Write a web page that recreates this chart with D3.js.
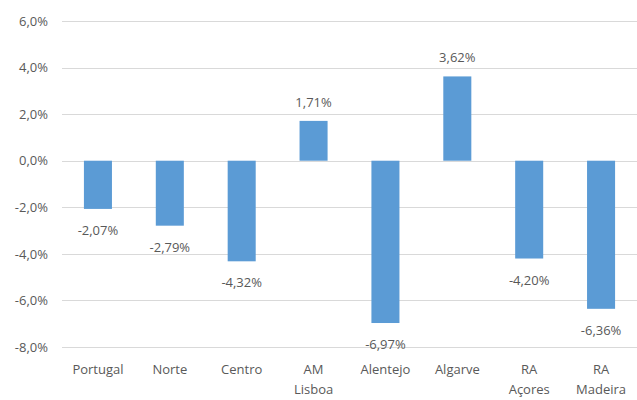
<!DOCTYPE html>
<html>
<head>
<meta charset="utf-8">
<script src="https://cdn.jsdelivr.net/npm/d3@7"></script>
<style>
  body { margin: 0; background: #fff; }
  text { font-family: "Open Sans", "Liberation Sans", sans-serif; fill: #595959; }
</style>
</head>
<body>
<svg id="chart" width="637" height="400"></svg>
<script>
// data
var categories = [["Portugal"], ["Norte"], ["Centro"], ["AM", "Lisboa"], ["Alentejo"], ["Algarve"], ["RA", "Açores"], ["RA", "Madeira"]];
var values = [-2.07, -2.79, -4.32, 1.71, -6.97, 3.62, -4.20, -6.36];
var yTicks = [6, 4, 2, 0, -2, -4, -6, -8];

var attrs = {
  width: 637,
  height: 400,
  marginLeft: 62,
  marginRight: 0,
  marginTop: 21,
  plotBottom: 347,
  barColor: '#5b9bd5',
  gridColor: '#d9d9d9',
  fontSize: 13
};

var svg = d3.select('#chart');
var fmtTick = function (d) { return d.toFixed(1).replace('.', ',') + '%'; };
var fmtVal = function (d) { return d.toFixed(2).replace('.', ',') + '%'; };

var x = d3.scaleBand()
  .domain(d3.range(categories.length))
  .range([attrs.marginLeft, attrs.width - attrs.marginRight])
  .paddingInner(0.61)
  .paddingOuter(0.305);

var y = d3.scaleLinear()
  .domain([-8, 6])
  .range([attrs.plotBottom, attrs.marginTop]);

// gridlines
svg.append('g').selectAll('line')
  .data(yTicks)
  .enter().append('line')
  .attr('x1', attrs.marginLeft)
  .attr('x2', attrs.width)
  .attr('y1', function (d) { return Math.round(y(d)) + 0.5; })
  .attr('y2', function (d) { return Math.round(y(d)) + 0.5; })
  .attr('stroke', attrs.gridColor)
  .attr('stroke-width', 1);

// y axis labels
var yAxis = d3.axisLeft(y).tickValues(yTicks).tickFormat(fmtTick).tickSize(0).tickPadding(14);
var yg = svg.append('g').attr('transform', 'translate(' + attrs.marginLeft + ',0)').call(yAxis);
yg.select('.domain').remove();
yg.selectAll('text').attr('font-size', attrs.fontSize).style('font-family', null).attr('font-family', null);

// bars
svg.append('g').selectAll('rect')
  .data(values)
  .enter().append('rect')
  .attr('x', function (d, i) { return x(i); })
  .attr('width', x.bandwidth())
  .attr('y', function (d) { return y(Math.max(0, d)); })
  .attr('height', function (d) { return Math.abs(y(d) - y(0)); })
  .attr('fill', attrs.barColor);

// value labels
svg.append('g').selectAll('text')
  .data(values)
  .enter().append('text')
  .attr('x', function (d, i) { return x(i) + x.bandwidth() / 2; })
  .attr('y', function (d) { return d >= 0 ? y(d) - 14 : y(d) + 26; })
  .attr('text-anchor', 'middle')
  .attr('font-size', attrs.fontSize)
  .text(fmtVal);

// category labels
var cat = svg.append('g').selectAll('text')
  .data(categories)
  .enter().append('text')
  .attr('text-anchor', 'middle')
  .attr('font-size', attrs.fontSize)
  .attr('transform', function (d, i) { return 'translate(' + (x(i) + x.bandwidth() / 2) + ',' + (attrs.plotBottom + 27) + ')'; });
cat.selectAll('tspan')
  .data(function (d) { return d; })
  .enter().append('tspan')
  .attr('x', 0)
  .attr('dy', function (d, i) { return i === 0 ? 0 : 20; })
  .text(function (d) { return d; });
</script>
</body>
</html>
